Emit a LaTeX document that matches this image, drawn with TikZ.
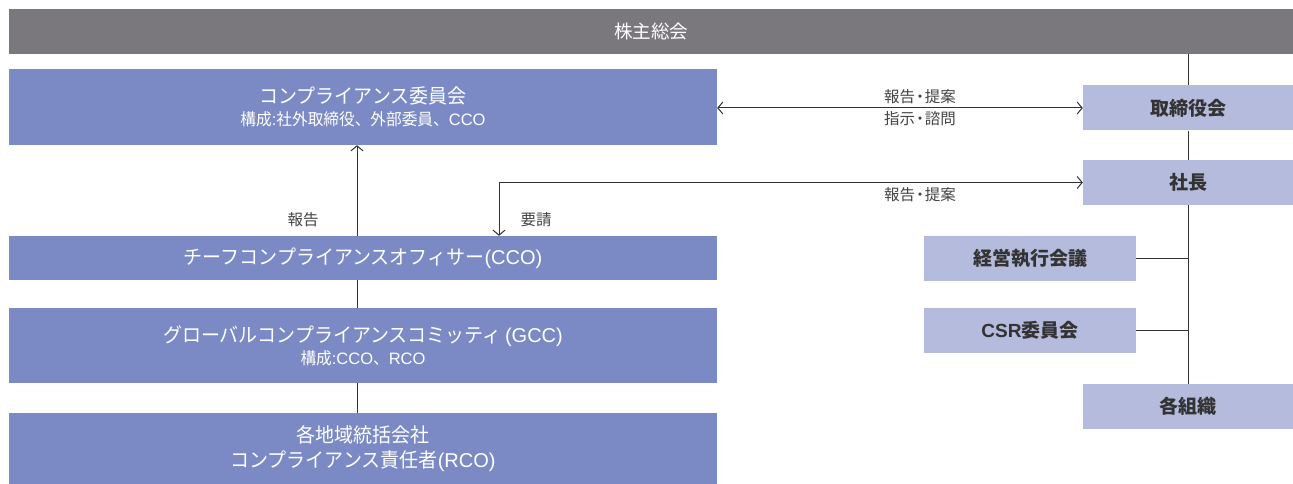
\documentclass[tikz,border=0pt]{standalone}
\usepackage{fontspec}
\setmainfont{Noto Sans CJK JP}
\newfontfamily\cjkn[FakeStretch=0.95]{Noto Sans CJK JP}
\newfontfamily\latn{Liberation Sans}
\newcommand{\dotsep}{\kern-0.18em・\kern-0.18em}
\usetikzlibrary{arrows.meta}
\definecolor{barc}{HTML}{7A787D}
\definecolor{leftc}{HTML}{7B8AC4}
\definecolor{rightc}{HTML}{B4BBDD}
\definecolor{linec}{HTML}{333333}
\definecolor{labc}{HTML}{444444}
\tikzset{
  barbox/.style={fill=barc, text=white, inner sep=0pt, minimum height=45pt, minimum width=1284pt, font=\fontsize{18.5}{22}\selectfont},
  leftbox/.style={fill=leftc, text=white, inner sep=0pt, minimum width=708pt, align=center, font=\cjkn\fontsize{20}{26}\selectfont},
  rightbox/.style={fill=rightc, text=linec, inner sep=0pt, minimum height=45pt, font=\bfseries\fontsize{19}{22}\selectfont},
  conn/.style={draw=linec, line width=1pt},
  tip/.style={-{Straight Barb[length=5pt,width=12pt,line width=1pt]}},
  bitip/.style={{Straight Barb[length=5pt,width=12pt,line width=1pt]}-{Straight Barb[length=5pt,width=12pt,line width=1pt]}},
  lab/.style={text=labc, inner sep=0pt, font=\fontsize{15.5}{18}\selectfont},
}
\begin{document}
\begin{tikzpicture}[x=1pt,y=-1pt]
\useasboundingbox[fill=white] (0,0) rectangle (1293,484);
% boxes
\node[barbox] (bar) at (651,31.5) {株主総会};
\node[leftbox, minimum height=76pt] (comp) at (363,107) {コンプライアンス委員会\\[-4pt]{\fontsize{16.5}{20}\selectfont 構成{\latn :}社外取締役、外部委員、{\latn CCO}}};
\node[leftbox, minimum height=44pt] (cco) at (363,258) {チーフコンプライアンスオフィサー{\latn (CCO)}};
\node[leftbox, minimum height=75pt] (gcc) at (363,345.5) {グローバルコンプライアンスコミッティ{\latn\,(GCC)}\\[-4pt]{\fontsize{16.5}{20}\selectfont 構成{\latn :CCO}、{\latn RCO}}};
\node[leftbox, minimum height=71pt] (rco) at (363,448.5) {各地域統括会社\\[-1pt]コンプライアンス責任者{\latn (RCO)}};
\node[rightbox, minimum width=210pt] (tori) at (1188,108) {取締役会};
\node[rightbox, minimum width=210pt] (shacho) at (1188,182.5) {社長};
\node[rightbox, minimum width=212pt] (keiei) at (1030,258.5) {経営執行会議};
\node[rightbox, minimum width=212pt] (csr) at (1030,330.5) {{\latn\bfseries CSR}委員会};
\node[rightbox, minimum width=210pt] (kaku) at (1188,406.5) {各組織};
% helper coordinates
\coordinate (ax) at (357,0);
\coordinate (dx) at (499,181);
% right spine
\draw[conn] (bar.south -| tori) -- (tori.north);
\draw[conn] (tori.south) -- (shacho.north);
\draw[conn] (shacho.south) -- (kaku.north);
\draw[conn] (keiei.east) -- (keiei.east -| kaku);
\draw[conn] (csr.east) -- (csr.east -| kaku);
% left spine
\draw[conn, tip] (cco.north -| ax) -- (comp.south -| ax);
\draw[conn] (cco.south -| ax) -- (gcc.north -| ax);
\draw[conn] (gcc.south -| ax) -- (rco.north -| ax);
% arrows to right
\draw[conn, bitip] (tori.west -| comp.east) -- (tori.west);
\draw[conn, bitip] (cco.north -| dx) |- (shacho.west);
% labels
\node[lab] (l1) at (920,97) {報告\dotsep 提案};
\node[lab] (l2) at (920,119) {指示\dotsep 諮問};
\node[lab] (l3) at (920,195) {報告\dotsep 提案};
\node[lab] (l4) at (303,220) {報告};
\node[lab] (l5) at (536,220) {要請};
\end{tikzpicture}
\end{document}
